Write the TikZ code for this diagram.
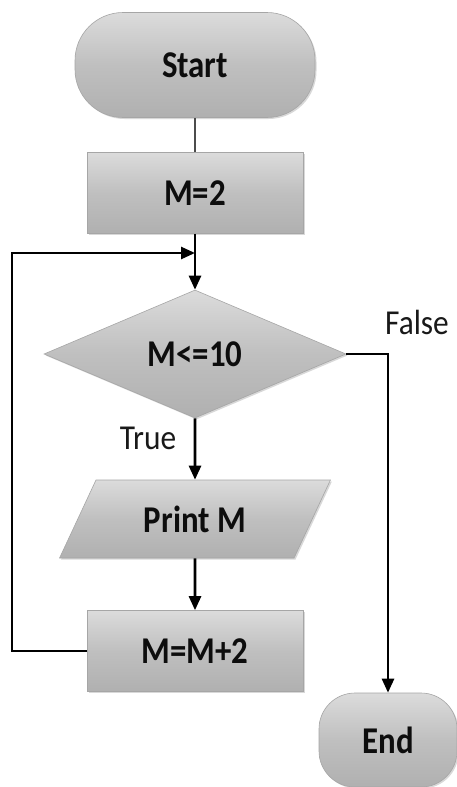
\documentclass[tikz,border=0pt]{standalone}
\usepackage{fontspec}
\usepackage{graphicx}
\setmainfont{Carlito}
\usetikzlibrary{shapes.geometric,arrows.meta,shadows}
\newcommand\btx[1]{\scalebox{1.06}[1.22]{#1}}
\newcommand\ltx[1]{\scalebox{1.12}[1.25]{#1}}
\begin{document}
\begin{tikzpicture}[x=1pt,y=-1pt,
  blk/.style={shading=axis, top color=gray!28, bottom color=gray!62, middle color=gray!50,
     draw=gray!70, line width=0.6pt, font=\fontsize{31}{34}\selectfont\bfseries, text=black!95,
     drop shadow={shadow xshift=1.5pt, shadow yshift=-1.5pt, opacity=0.3}},
  term/.style={blk, rectangle, inner sep=0pt},
  proc/.style={blk, rectangle, inner sep=0pt, minimum width=216pt, minimum height=81pt},
  dec/.style={blk, diamond, inner sep=0pt, minimum width=302pt, minimum height=128pt},
  io/.style={blk, trapezium, trapezium left angle=55, trapezium right angle=125,
     trapezium stretches=true, inner sep=0pt, minimum width=271pt, minimum height=78pt},
  conn/.style={line width=2.6pt, -{Triangle[length=14pt,width=12pt]}},
  plain/.style={line width=1.6pt, draw=black!70},
  lbl/.style={font=\fontsize{28}{32}\selectfont, text=black!90}
]
\useasboundingbox (0,0) rectangle (457,787);
\fill[white] (0,0) rectangle (457,787);

\node[term, rounded corners=48pt, minimum width=240pt, minimum height=105pt] (start) at (195,65) {\btx{Start}};
\node[proc] (m2) at (195,193) {\btx{M=2}};
\node[dec] (cond) at (195,354) {\btx{M<=10}};
\node[io] (print) at (195,519) {\btx{Print M}};
\node[proc] (inc) at (195,651) {\btx{M=M+2}};
\node[term, rounded corners=36pt, minimum width=138pt, minimum height=94pt] (end) at (388,740) {\btx{End}};

\coordinate (lc) at (12,253);
\coordinate (join) at (195,253);

\draw[plain] (start.south) -- (m2.north);
\draw[conn] (m2.south) -- (cond.north);
\draw[conn] (inc.west) -- (inc.west -| lc) -- (lc) -- (join);
\draw[conn] (cond.south) -- (print.north);
\draw[conn] (print.south) -- (inc.north);
\draw[conn] (cond.east) -| (end.north);

\node[lbl] (tl) at (148,438) {\ltx{True}};
\node[lbl] (fl) at (417,322) {\ltx{False}};
\end{tikzpicture}
\end{document}
